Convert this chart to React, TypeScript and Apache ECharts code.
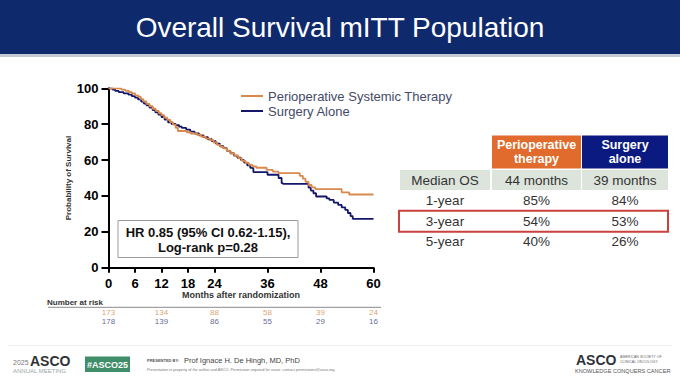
import React, { useEffect, useRef } from "react";
import * as echarts from "echarts";

const FONT = '"Liberation Sans", Arial, Helvetica, sans-serif';

const titleText = "Overall Survival mITT Population";
const seriesNames = ["Perioperative Systemic Therapy", "Surgery Alone"];
const xTicks = [0, 6, 12, 18, 24, 36, 48, 60];
const yTicks = [0, 20, 40, 60, 80, 100];

// Kaplan-Meier estimates: [month, % surviving]
const periopCurve: [number, number][] = [
  [0, 100], [2.9, 99.3], [3.8, 98.6], [4.6, 97.9], [5.3, 97.2], [6.0, 96.1], [6.7, 95.4],
  [7.3, 94], [7.9, 92.7], [8.6, 91.3], [9.3, 90], [10.0, 88.6], [10.7, 87.4], [11.4, 86.1],
  [12.0, 85], [12.6, 83.6], [13.3, 82.4], [14.0, 81.1], [14.6, 79.8], [15.2, 78], [15.7, 76.2],
  [17.7, 75.5], [18.6, 74.8], [20.0, 74.1], [21.0, 73], [22.0, 72], [23.0, 71.1], [23.8, 69.8],
  [24.6, 68.5], [25.3, 67.4], [26.0, 66.5], [26.8, 65.2], [27.6, 63.8], [28.5, 62.4], [29.4, 61],
  [30.2, 59.6], [31.0, 58.4], [31.8, 57.3], [32.6, 56.4], [33.5, 55.7], [35.8, 54.5], [37.2, 53.6],
  [38.5, 52.7], [43.3, 51.2], [44.0, 49.6], [44.6, 47.8], [45.3, 46.1], [46.0, 44.8], [46.8, 43.8],
  [52.8, 42], [54.5, 40.8], [60, 40.8],
];
const surgeryCurve: [number, number][] = [
  [0, 100], [0.9, 99.3], [1.5, 98.6], [2.3, 97.9], [3.4, 97.2], [4.5, 96.5], [5.3, 95.6],
  [6.0, 94.8], [6.7, 93.8], [7.4, 92.6], [8.0, 91.5], [8.6, 90.5], [9.3, 89.2], [10.0, 87.8],
  [10.6, 86.6], [11.3, 85.3], [12.0, 84], [12.7, 82.6], [13.5, 81], [14.3, 80.1], [15.2, 79.4],
  [16.0, 78.6], [16.6, 77.9], [17.6, 77], [18.5, 75.8], [19.5, 74.8], [20.5, 73.8], [21.5, 72.8],
  [22.5, 71.6], [23.4, 70.5], [24.3, 69.2], [25.2, 67.8], [26.0, 66.6], [26.8, 65.1], [27.6, 63.8],
  [28.4, 62.5], [29.2, 61.3], [30.0, 60], [30.7, 58.6], [31.4, 57.1], [32.1, 55.6], [32.8, 53.3],
  [36.0, 51.8], [38.5, 50], [39.2, 47.1], [39.5, 46.7], [45.3, 44.6], [45.8, 43], [46.4, 41.5],
  [47.0, 39.7], [49.4, 38.6], [50.0, 37.8], [51.0, 36.3], [52.0, 35], [52.8, 33.6], [53.6, 32.2],
  [54.2, 30.5], [54.8, 28.8], [55.3, 27.2], [60, 27.2],
];

const riskMonths = [0, 12, 24, 36, 48, 60];
const riskPeriop = [173, 134, 88, 58, 39, 24];
const riskSurgery = [178, 139, 86, 55, 29, 16];

const hrLines = ["HR 0.85 (95% CI 0.62-1.15),", "Log-rank p=0.28"];

const tableHeaders = ["Perioperative\ntherapy", "Surgery\nalone"];
const tableRows = ["Median OS", "1-year", "3-year", "5-year"];
const periopStats = ["44 months", "85%", "54%", "40%"];
const surgeryStats = ["39 months", "84%", "53%", "26%"];
const highlightRow = 2;

const ORANGE = "#d8894b";
const NAVY = "#15176b";
const RISK_ORANGE = "#d48a4c";
const RISK_BLUE = "#3a3e7c";

function txt(text: string, x: number, y: number, font: string, fill: string, align = "left", valign = "middle", extra: any = {}) {
  return {
    type: "text",
    silent: true,
    style: {
      text, x, y, font, fill,
      align, verticalAlign: valign,
      textAlign: align, textVerticalAlign: valign,
      ...extra,
    },
  };
}

export default function App() {
  const ref = useRef<HTMLDivElement>(null);
  useEffect(() => {
    document.body.style.margin = "0";
    const chart = echarts.init(ref.current!, null, { renderer: "svg" });

    const graphics: any[] = [];
    // Title band
    graphics.push({ type: "rect", silent: true, shape: { x: 0, y: 0, width: 680, height: 54 }, style: { fill: "#0f2a6c" } });
    graphics.push({ type: "rect", silent: true, shape: { x: 0, y: 54, width: 680, height: 3 }, style: { fill: "#c3c9d4" } });
    graphics.push(txt(titleText, 340, 27.5, `28px ${FONT}`, "#ffffff", "center"));

    // HR box
    graphics.push({ type: "rect", silent: true, shape: { x: 118, y: 220.5, width: 180, height: 37 }, style: { fill: "#ffffff", stroke: "#9a9a9a", lineWidth: 1 } });
    hrLines.forEach((t, i) => graphics.push(txt(t, 208, 232.5 + i * 14.5, `bold 13px ${FONT}`, "#111111", "center")));

    // Table
    const colX = [400, 492, 582];
    const colW = [90, 89, 86];
    const colC = colX.map((x, i) => x + colW[i] / 2);
    graphics.push({ type: "rect", silent: true, shape: { x: colX[1], y: 135.5, width: colW[1], height: 33 }, style: { fill: "#e06b2c" } });
    graphics.push({ type: "rect", silent: true, shape: { x: colX[2], y: 135.5, width: colW[2], height: 33 }, style: { fill: "#0b1a80" } });
    tableHeaders.forEach((h, i) =>
      graphics.push(txt(h, colC[i + 1], 152, `bold 12.5px ${FONT}`, "#ffffff", "center", "middle", { lineHeight: 14 }))
    );
    const rowY0 = 180;
    const rowStep = 20.6;
    colX.forEach((x, i) =>
      graphics.push({ type: "rect", silent: true, shape: { x, y: 170, width: colW[i], height: 20 }, style: { fill: "#dde4dc" } })
    );
    tableRows.forEach((r, i) => {
      const y = rowY0 + i * rowStep;
      graphics.push(txt(r, colC[0], y, `13.5px ${FONT}`, "#333333", "center"));
      graphics.push(txt(periopStats[i], colC[1], y, `13.5px ${FONT}`, "#333333", "center"));
      graphics.push(txt(surgeryStats[i], colC[2], y, `13.5px ${FONT}`, "#333333", "center"));
    });
    graphics.push({
      type: "rect", silent: true,
      shape: { x: 399, y: rowY0 + highlightRow * rowStep - 10.5, width: 269, height: 21 },
      style: { fill: "none", stroke: "#c9423e", lineWidth: 2 },
    });

    // Number at risk header
    graphics.push(txt("Number at risk", 47, 302.5, `bold 8px ${FONT}`, "#333333", "left"));
    graphics.push({ type: "line", silent: true, shape: { x1: 48, y1: 307.3, x2: 381, y2: 307.3 }, style: { stroke: "#8a8a8a", lineWidth: 1 } });

    // Footer
    graphics.push({ type: "line", silent: true, shape: { x1: 8, y1: 345.5, x2: 672, y2: 345.5 }, style: { stroke: "#eeeeee", lineWidth: 1 } });
    graphics.push(txt("2025", 13, 362, `7px ${FONT}`, "#7a7a7a", "left"));
    graphics.push(txt("ASCO", 30, 361, `bold 14px ${FONT}`, "#2f3338", "left"));
    graphics.push(txt("ANNUAL MEETING", 13, 371, `6px ${FONT}`, "#98a8a8", "left"));
    graphics.push({ type: "rect", silent: true, shape: { x: 85, y: 356.5, width: 45, height: 15.5 }, style: { fill: "#3f8d69" } });
    graphics.push(txt("#ASCO25", 107.5, 364.5, `bold 9px ${FONT}`, "#ffffff", "center"));
    graphics.push(txt("PRESENTED BY:", 147, 360.5, `bold 4px ${FONT}`, "#555555", "left"));
    graphics.push(txt("Prof Ignace H. De Hingh, MD, PhD", 184, 360, `7.5px ${FONT}`, "#444444", "left"));
    graphics.push(txt("Presentation is property of the author and ASCO. Permission required for reuse; contact permissions@asco.org.", 147, 369.5, `3.8px ${FONT}`, "#777777", "left"));
    graphics.push(txt("ASCO", 576, 360, `bold 14px ${FONT}`, "#2f3338", "left"));
    graphics.push(txt("AMERICAN SOCIETY OF", 620, 357, `3.6px ${FONT}`, "#666666", "left"));
    graphics.push(txt("CLINICAL ONCOLOGY", 620, 361.5, `3.6px ${FONT}`, "#666666", "left"));
    graphics.push(txt("KNOWLEDGE CONQUERS CANCER", 575, 371, `5.6px ${FONT}`, "#555555", "left"));

    const axisFont = { fontFamily: FONT, fontWeight: "bold" as const, color: "#000000" };

    chart.setOption({
      animation: false,
      backgroundColor: "#ffffff",
      textStyle: { fontFamily: FONT },
      legend: {
        data: seriesNames,
        orient: "vertical",
        left: 241,
        top: 89,
        padding: [0, 0, 0, 0],
        icon: "rect",
        itemWidth: 22,
        itemHeight: 2,
        itemGap: 1,
        textStyle: { fontFamily: FONT, fontSize: 13, color: "#454a68", lineHeight: 14 },
        selectedMode: false,
      },
      grid: [
        { left: 108.5, top: 88.3, width: 265, height: 179.4, outerBoundsMode: "none" },
        { left: 108.5, top: 307.6, width: 265, height: 18.8, outerBoundsMode: "none" },
      ],
      xAxis: [
        {
          type: "value", gridIndex: 0, min: 0, max: 60,
          name: "Months after randomization", nameLocation: "middle", nameGap: 22,
          nameTextStyle: { fontFamily: FONT, fontWeight: "bold", fontSize: 9, color: "#333333" },
          axisLine: { show: true, onZero: false, lineStyle: { color: "#000", width: 2 } },
          axisTick: { show: true, length: 5, customValues: xTicks, lineStyle: { color: "#000", width: 2 } },
          axisLabel: { ...axisFont, fontSize: 13, margin: 9, customValues: xTicks },
          splitLine: { show: false },
        },
        { type: "value", gridIndex: 1, min: 0, max: 60, show: false },
      ],
      yAxis: [
        {
          type: "value", gridIndex: 0, min: 0, max: 100, interval: 20,
          name: "Probability of Survival", nameLocation: "middle", nameGap: 27, nameRotate: 90,
          nameTextStyle: { fontFamily: FONT, fontWeight: "bold", fontSize: 8, color: "#333333" },
          axisLine: { show: true, lineStyle: { color: "#000", width: 2 } },
          axisTick: { show: true, length: 7, lineStyle: { color: "#000", width: 2 } },
          axisLabel: { ...axisFont, fontSize: 13, margin: 10, customValues: yTicks },
          splitLine: { show: false },
        },
        { type: "category", gridIndex: 1, data: ["Perioperative", "Surgery"], inverse: true, show: false },
      ],
      series: [
        {
          name: seriesNames[0], type: "line", step: "end", data: periopCurve,
          showSymbol: false, symbol: "none", color: ORANGE,
          lineStyle: { color: ORANGE, width: 1.8 }, z: 3,
        },
        {
          name: seriesNames[1], type: "line", step: "end", data: surgeryCurve,
          showSymbol: false, symbol: "none", color: NAVY,
          lineStyle: { color: NAVY, width: 1.8 }, z: 2,
        },
        {
          type: "scatter", xAxisIndex: 1, yAxisIndex: 1, symbolSize: 0.1,
          itemStyle: { color: "transparent" }, silent: true,
          data: riskMonths.map((m, i) => [m, "Perioperative", riskPeriop[i]]),
          label: { show: true, position: "inside", formatter: (p: any) => String(p.value[2]), fontFamily: FONT, fontSize: 8, color: RISK_ORANGE },
        },
        {
          type: "scatter", xAxisIndex: 1, yAxisIndex: 1, symbolSize: 0.1,
          itemStyle: { color: "transparent" }, silent: true,
          data: riskMonths.map((m, i) => [m, "Surgery", riskSurgery[i]]),
          label: { show: true, position: "inside", formatter: (p: any) => String(p.value[2]), fontFamily: FONT, fontSize: 8, color: RISK_BLUE },
        },
      ],
      graphic: { elements: graphics },
    });
    return () => chart.dispose();
  }, []);
  return <div ref={ref} style={{ position: "fixed", left: 0, top: 0, width: 680, height: 381 }} />;
}
